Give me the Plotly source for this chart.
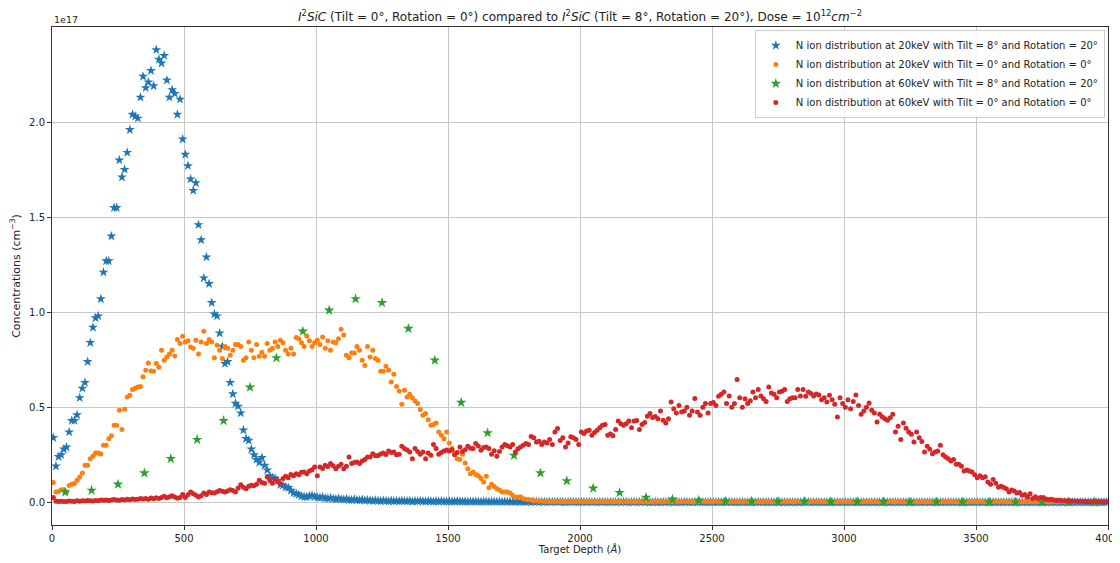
import plotly.graph_objects as go

# ---------------- data (concentrations in units of 1e17 cm^-3) ----------------
depth = [5 + 10 * i for i in range(400)]          # bin centres, Angstrom
depth_60k_tilt = [50 + 100 * i for i in range(40)]

blue_20k_tilt = [
    0.34, 0.19, 0.24, 0.25, 0.28, 0.29, 0.37, 0.43, 0.43, 0.46,
    0.55, 0.60, 0.63, 0.74, 0.84, 0.92, 0.97, 0.98, 1.07, 1.21,
    1.27, 1.27, 1.40, 1.55, 1.55, 1.80, 1.71, 1.75, 1.84, 1.96,
    2.04, 2.03, 2.02, 2.13, 2.24, 2.18, 2.21, 2.27, 2.19, 2.38,
    2.33, 2.31, 2.35, 2.22, 2.13, 2.17, 2.15, 2.04, 2.12, 1.91,
    1.83, 1.77, 1.70, 1.64, 1.68, 1.46, 1.38, 1.18, 1.29, 1.15,
    1.05, 0.99, 0.98, 0.89, 0.82, 0.73, 0.74, 0.63, 0.57, 0.52,
    0.505, 0.47, 0.38, 0.335, 0.326, 0.28, 0.25, 0.225, 0.21, 0.235,
    0.195, 0.17, 0.14, 0.13, 0.125, 0.115, 0.093, 0.09, 0.08, 0.077,
    0.063, 0.049, 0.046, 0.040, 0.032, 0.030, 0.028, 0.033, 0.037, 0.030,
    0.027, 0.025, 0.028, 0.022, 0.020, 0.024, 0.019, 0.017, 0.021, 0.016,
    0.015, 0.018, 0.014, 0.012, 0.016, 0.013, 0.011, 0.014, 0.010, 0.012,
    0.010, 0.008, 0.011, 0.009, 0.007, 0.010, 0.008, 0.006, 0.009, 0.007,
    0.008, 0.006, 0.009, 0.007, 0.006, 0.008, 0.005, 0.007, 0.006, 0.008,
    0.006, 0.005, 0.007, 0.006, 0.004, 0.006, 0.005, 0.007, 0.005, 0.004,
    0.006, 0.005, 0.004, 0.006, 0.005, 0.004, 0.005, 0.003, 0.005, 0.004,
    0.004, 0.005, 0.003, 0.004, 0.005, 0.003, 0.004, 0.004, 0.003, 0.005,
    0.003, 0.004, 0.003, 0.004, 0.003, 0.002, 0.004, 0.003, 0.003, 0.002,
    0.003, 0.002, 0.003, 0.003, 0.002, 0.003, 0.002, 0.002, 0.003, 0.002,
    0.002, 0.003, 0.002, 0.002, 0.001, 0.002, 0.003, 0.002, 0.002, 0.001,
    0.002, 0.002, 0.001, 0.003, 0.002, 0.002, 0.001, 0.002, 0.002, 0.002,
    0.001, 0.002, 0.002, 0.001, 0.002, 0.001, 0.002, 0.002, 0.001, 0.002,
    0.002, 0.001, 0.002, 0.002, 0.001, 0.002, 0.001, 0.001, 0.002, 0.001,
    0.001, 0.002, 0.001, 0.002, 0.001, 0.001, 0.002, 0.001, 0.001, 0.002,
    0.002, 0.001, 0.001, 0.002, 0.001, 0.002, 0.001, 0.001, 0.001, 0.002,
    0.001, 0.001, 0.002, 0.001, 0.001, 0.001, 0.002, 0.001, 0.001, 0.001,
    0.001, 0.002, 0.001, 0.001, 0.001, 0.001, 0.001, 0.002, 0.001, 0.001,
    0.001, 0.001, 0.001, 0.001, 0.002, 0.001, 0.001, 0.001, 0.001, 0.001,
    0.001, 0.001, 0.001, 0.001, 0.001, 0.001, 0.002, 0.001, 0.001, 0.001,
    0.001, 0.001, 0.001, 0.001, 0.001, 0.001, 0.001, 0.001, 0.001, 0.001,
    0.001, 0.001, 0.001, 0.001, 0.001, 0.001, 0.001, 0.001, 0.001, 0.001,
    0.001, 0.001, 0.001, 0.001, 0.001, 0.001, 0.001, 0.001, 0.001, 0.001,
    0.001, 0.001, 0.001, 0.001, 0.001, 0.001, 0.001, 0.001, 0.001, 0.001,
    0.001, 0.001, 0.001, 0.001, 0.001, 0.001, 0.001, 0.001, 0.001, 0.001,
    0.001, 0.001, 0.001, 0.001, 0.001, 0.001, 0.001, 0.001, 0.001, 0.001,
    0.001, 0.001, 0.001, 0.001, 0.001, 0.001, 0.001, 0.001, 0.001, 0.001,
    0.001, 0.001, 0.001, 0.001, 0.001, 0.001, 0.001, 0.001, 0.001, 0.001,
    0.001, 0.001, 0.001, 0.001, 0.001, 0.001, 0.001, 0.001, 0.001, 0.001,
    0.001, 0.001, 0.001, 0.001, 0.001, 0.001, 0.001, 0.001, 0.001, 0.001,
    0.001, 0.001, 0.001, 0.001, 0.001, 0.001, 0.001, 0.001, 0.001, 0.001,
]

orange_20k_notilt = [
    0.104, 0.054, 0.057, 0.067, 0.067, 0.054, 0.089, 0.095, 0.099, 0.116,
    0.133, 0.154, 0.195, 0.195, 0.23, 0.242, 0.26, 0.26, 0.255, 0.30,
    0.30, 0.335, 0.35, 0.405, 0.405, 0.484, 0.383, 0.49, 0.554, 0.563,
    0.593, 0.60, 0.607, 0.61, 0.66, 0.695, 0.733, 0.691, 0.69, 0.73,
    0.71, 0.80, 0.747, 0.765, 0.78, 0.80, 0.77, 0.856, 0.835, 0.874,
    0.844, 0.85, 0.817, 0.81, 0.853, 0.78, 0.844, 0.90, 0.835, 0.856,
    0.844, 0.76, 0.826, 0.80, 0.756, 0.82, 0.81, 0.774, 0.80, 0.83,
    0.83, 0.82, 0.747, 0.76, 0.844, 0.80, 0.76, 0.83, 0.768, 0.79,
    0.768, 0.835, 0.80, 0.81, 0.844, 0.82, 0.853, 0.84, 0.80, 0.78,
    0.81, 0.78, 0.867, 0.86, 0.84, 0.82, 0.875, 0.85, 0.82, 0.84,
    0.853, 0.83, 0.87, 0.81, 0.85, 0.80, 0.844, 0.84, 0.86, 0.91,
    0.88, 0.774, 0.76, 0.786, 0.786, 0.82, 0.80, 0.747, 0.72, 0.82,
    0.765, 0.80, 0.756, 0.747, 0.69, 0.69, 0.716, 0.695, 0.633, 0.674,
    0.61, 0.586, 0.516, 0.59, 0.554, 0.568, 0.55, 0.533, 0.52, 0.488,
    0.458, 0.467, 0.435, 0.405, 0.41, 0.417, 0.37, 0.353, 0.335, 0.37,
    0.312, 0.283, 0.26, 0.23, 0.225, 0.253, 0.207, 0.177, 0.151, 0.16,
    0.146, 0.14, 0.125, 0.107, 0.138, 0.077, 0.095, 0.084, 0.072, 0.065,
    0.054, 0.054, 0.054, 0.049, 0.037, 0.025, 0.028, 0.030, 0.019, 0.016,
    0.014, 0.012, 0.007, 0.009, 0.006, 0.007, 0.005, 0.006, 0.005, 0.004,
    0.004, 0.005, 0.004, 0.004, 0.003, 0.004, 0.005, 0.004, 0.003, 0.004,
    0.004, 0.003, 0.004, 0.004, 0.005, 0.004, 0.003, 0.004, 0.004, 0.003,
    0.004, 0.004, 0.003, 0.004, 0.004, 0.003, 0.004, 0.005, 0.004, 0.004,
    0.003, 0.004, 0.004, 0.003, 0.004, 0.004, 0.003, 0.004, 0.004, 0.003,
    0.004, 0.003, 0.004, 0.004, 0.003, 0.004, 0.004, 0.003, 0.004, 0.004,
    0.004, 0.004, 0.003, 0.004, 0.004, 0.003, 0.004, 0.004, 0.004, 0.003,
    0.003, 0.004, 0.004, 0.004, 0.003, 0.004, 0.004, 0.003, 0.004, 0.004,
    0.004, 0.003, 0.004, 0.004, 0.004, 0.003, 0.004, 0.004, 0.003, 0.004,
    0.004, 0.004, 0.003, 0.004, 0.004, 0.004, 0.003, 0.004, 0.004, 0.004,
    0.003, 0.004, 0.004, 0.004, 0.003, 0.004, 0.004, 0.004, 0.003, 0.004,
    0.004, 0.004, 0.003, 0.004, 0.004, 0.004, 0.004, 0.003, 0.004, 0.004,
    0.004, 0.003, 0.004, 0.004, 0.004, 0.003, 0.004, 0.004, 0.004, 0.004,
    0.003, 0.004, 0.004, 0.004, 0.004, 0.003, 0.004, 0.004, 0.004, 0.003,
    0.004, 0.004, 0.004, 0.003, 0.004, 0.004, 0.004, 0.004, 0.003, 0.004,
    0.004, 0.003, 0.004, 0.004, 0.004, 0.004, 0.003, 0.004, 0.004, 0.004,
    0.004, 0.004, 0.003, 0.004, 0.004, 0.004, 0.003, 0.004, 0.004, 0.004,
    0.003, 0.004, 0.004, 0.004, 0.004, 0.003, 0.004, 0.004, 0.004, 0.004,
    0.004, 0.004, 0.003, 0.004, 0.004, 0.004, 0.004, 0.003, 0.004, 0.004,
    0.004, 0.003, 0.004, 0.004, 0.004, 0.004, 0.004, 0.003, 0.004, 0.004,
    0.004, 0.004, 0.004, 0.003, 0.004, 0.004, 0.004, 0.004, 0.003, 0.004,
]

green_60k_tilt = [
    0.054, 0.063, 0.095, 0.154, 0.23, 0.33, 0.43, 0.605, 0.76, 0.90,
    1.01, 1.07, 1.05, 0.914, 0.747, 0.525, 0.365, 0.247, 0.154, 0.113,
    0.074, 0.051, 0.026, 0.016, 0.010, 0.006, 0.005, 0.004, 0.004, 0.003,
    0.003, 0.003, 0.002, 0.002, 0.002, 0.002, 0.001, 0.001, 0.001, 0.001,
]

red_60k_notilt = [
    0.025, 0.006, 0.004, 0.006, 0.005, 0.004, 0.007, 0.006, 0.005, 0.008,
    0.006, 0.009, 0.007, 0.010, 0.008, 0.007, 0.010, 0.009, 0.012, 0.011,
    0.013, 0.010, 0.012, 0.015, 0.013, 0.011, 0.015, 0.013, 0.017, 0.014,
    0.018, 0.015, 0.017, 0.021, 0.018, 0.020, 0.017, 0.023, 0.019, 0.024,
    0.021, 0.026, 0.032, 0.024, 0.030, 0.035, 0.028, 0.022, 0.025, 0.042,
    0.025, 0.040, 0.054, 0.045, 0.037, 0.028, 0.035, 0.049, 0.042, 0.054,
    0.050, 0.049, 0.056, 0.063, 0.058, 0.054, 0.060, 0.067, 0.062, 0.054,
    0.075, 0.093, 0.080, 0.072, 0.085, 0.090, 0.088, 0.095, 0.116, 0.104,
    0.100, 0.133, 0.115, 0.100, 0.120, 0.112, 0.098, 0.125, 0.137, 0.130,
    0.147, 0.140, 0.151, 0.145, 0.158, 0.160, 0.151, 0.165, 0.172, 0.186,
    0.140, 0.186, 0.178, 0.195, 0.188, 0.204, 0.192, 0.177, 0.190, 0.200,
    0.177, 0.190, 0.238, 0.204, 0.210, 0.212, 0.205, 0.217, 0.225, 0.238,
    0.238, 0.256, 0.245, 0.247, 0.255, 0.260, 0.252, 0.270, 0.262, 0.265,
    0.250, 0.253, 0.295, 0.283, 0.275, 0.265, 0.230, 0.283, 0.268, 0.253,
    0.265, 0.230, 0.260, 0.248, 0.305, 0.283, 0.253, 0.262, 0.270, 0.275,
    0.270, 0.277, 0.250, 0.262, 0.291, 0.268, 0.277, 0.295, 0.285, 0.283,
    0.309, 0.296, 0.274, 0.288, 0.291, 0.283, 0.253, 0.272, 0.242, 0.268,
    0.291, 0.305, 0.298, 0.291, 0.305, 0.265, 0.282, 0.291, 0.300, 0.310,
    0.305, 0.347, 0.340, 0.317, 0.322, 0.305, 0.317, 0.312, 0.330, 0.305,
    0.370, 0.388, 0.326, 0.340, 0.291, 0.312, 0.345, 0.340, 0.330, 0.305,
    0.370, 0.362, 0.375, 0.379, 0.353, 0.368, 0.379, 0.393, 0.405, 0.410,
    0.353, 0.360, 0.350, 0.383, 0.428, 0.414, 0.405, 0.414, 0.428, 0.393,
    0.428, 0.430, 0.383, 0.410, 0.420, 0.453, 0.467, 0.446, 0.452, 0.440,
    0.480, 0.432, 0.417, 0.440, 0.528, 0.493, 0.470, 0.510, 0.475, 0.480,
    0.500, 0.458, 0.480, 0.546, 0.475, 0.458, 0.500, 0.520, 0.470, 0.520,
    0.525, 0.510, 0.558, 0.568, 0.580, 0.520, 0.560, 0.500, 0.520, 0.646,
    0.550, 0.500, 0.545, 0.520, 0.535, 0.580, 0.550, 0.593, 0.560, 0.545,
    0.530, 0.607, 0.575, 0.568, 0.550, 0.580, 0.585, 0.593, 0.530, 0.545,
    0.550, 0.550, 0.593, 0.560, 0.593, 0.558, 0.580, 0.572, 0.560, 0.570,
    0.565, 0.540, 0.550, 0.528, 0.563, 0.540, 0.516, 0.449, 0.550, 0.520,
    0.500, 0.540, 0.493, 0.530, 0.565, 0.510, 0.463, 0.480, 0.500, 0.523,
    0.484, 0.470, 0.423, 0.463, 0.450, 0.440, 0.432, 0.445, 0.463, 0.370,
    0.400, 0.330, 0.417, 0.390, 0.370, 0.358, 0.317, 0.370, 0.340, 0.320,
    0.265, 0.295, 0.280, 0.256, 0.265, 0.270, 0.300, 0.250, 0.238, 0.230,
    0.217, 0.225, 0.200, 0.200, 0.190, 0.165, 0.170, 0.165, 0.160, 0.145,
    0.130, 0.140, 0.130, 0.135, 0.107, 0.095, 0.120, 0.100, 0.080, 0.085,
    0.078, 0.072, 0.054, 0.065, 0.060, 0.049, 0.052, 0.037, 0.042, 0.028,
    0.045, 0.020, 0.030, 0.022, 0.025, 0.025, 0.018, 0.014, 0.016, 0.012,
    0.010, 0.011, 0.009, 0.008, 0.007, 0.008, 0.006, 0.007, 0.005, 0.006,
    0.004, 0.005, 0.004, 0.003, 0.004, 0.003, 0.004, 0.003, 0.003, 0.003,
]

legend_names = [
    "N ion distribution at 20keV with Tilt = 8° and Rotation = 20°",
    "N ion distribution at 20keV with Tilt = 0° and Rotation = 0°",
    "N ion distribution at 60keV with Tilt = 8° and Rotation = 20°",
    "N ion distribution at 60keV with Tilt = 0° and Rotation = 0°",
]
x_ticks = [0, 500, 1000, 1500, 2000, 2500, 3000, 3500, 4000]
y_ticks = [0.0, 0.5, 1.0, 1.5, 2.0]

# ---------------- figure ----------------
FONT = "DejaVu Sans"
fig = go.Figure()
fig.add_trace(go.Scatter(x=depth, y=blue_20k_tilt, mode="markers", name=legend_names[0],
                         marker=dict(symbol="star", size=7.5, color="#1f77b4", line=dict(width=0))))
fig.add_trace(go.Scatter(x=depth, y=orange_20k_notilt, mode="markers", name=legend_names[1],
                         marker=dict(symbol="circle", size=5, color="#ff7f0e", line=dict(width=0))))
fig.add_trace(go.Scatter(x=depth_60k_tilt, y=green_60k_tilt, mode="markers", name=legend_names[2],
                         marker=dict(symbol="star", size=8, color="#2ca02c", line=dict(width=0))))
fig.add_trace(go.Scatter(x=depth, y=red_60k_notilt, mode="markers", name=legend_names[3],
                         marker=dict(symbol="circle", size=5, color="#d62728", line=dict(width=0))))

axis_common = dict(showgrid=True, gridcolor="#c8c8c8", gridwidth=1, zeroline=False,
                   showline=True, linecolor="#333333", linewidth=1, mirror=True,
                   ticks="outside", ticklen=4, tickcolor="#333333", automargin=False,
                   ticklabeloverflow="allow",
                   tickfont=dict(family=FONT, size=10, color="#222"))

# the page body adds an 8px offset, so margins are shifted to land the plot in place
fig.update_layout(
    width=1120, height=547,
    paper_bgcolor="white", plot_bgcolor="white",
    margin=dict(l=44, r=20, t=19, b=30, autoexpand=False),
    font=dict(family=FONT, color="#222"),
    title=dict(
        text=("<i>I</i><sup>2</sup><i>SiC</i> (Tilt = 0°, Rotation = 0°) compared to "
              "<i>I</i><sup>2</sup><i>SiC</i> (Tilt = 8°, Rotation = 20°), Dose = 10<sup>12</sup>"
              "<i>cm</i><sup>−2</sup>"),
        x=0.5, xanchor="center", xref="paper", y=1.0, yanchor="bottom", yref="paper",
        pad=dict(t=0, b=6),
        font=dict(family=FONT, size=12, color="#222")),
    xaxis=dict(range=[0, 4000], tickvals=x_ticks, ticktext=[str(v) for v in x_ticks],
               title=dict(text="Target Depth (<i>Å</i>)", font=dict(family=FONT, size=10), standoff=2),
               **axis_common),
    yaxis=dict(range=[-0.119, 2.5], tickvals=y_ticks, ticktext=[f"{v:.1f}" for v in y_ticks],
               title=dict(text="Concentrations (cm<sup>−3</sup>)", font=dict(family=FONT, size=11), standoff=10),
               **axis_common),
    legend=dict(x=0.997, y=0.994, xanchor="right", yanchor="top",
                bgcolor="rgba(255,255,255,0.85)", bordercolor="#cccccc", borderwidth=1,
                font=dict(family=FONT, size=10, color="#222"), tracegroupgap=0),
    showlegend=True,
)
fig.add_annotation(text="1e17", xref="paper", yref="paper", x=0, y=1.0, xanchor="left",
                   yanchor="bottom", showarrow=False, font=dict(family=FONT, size=9.5, color="#222"))

fig.write_html("out.html")
